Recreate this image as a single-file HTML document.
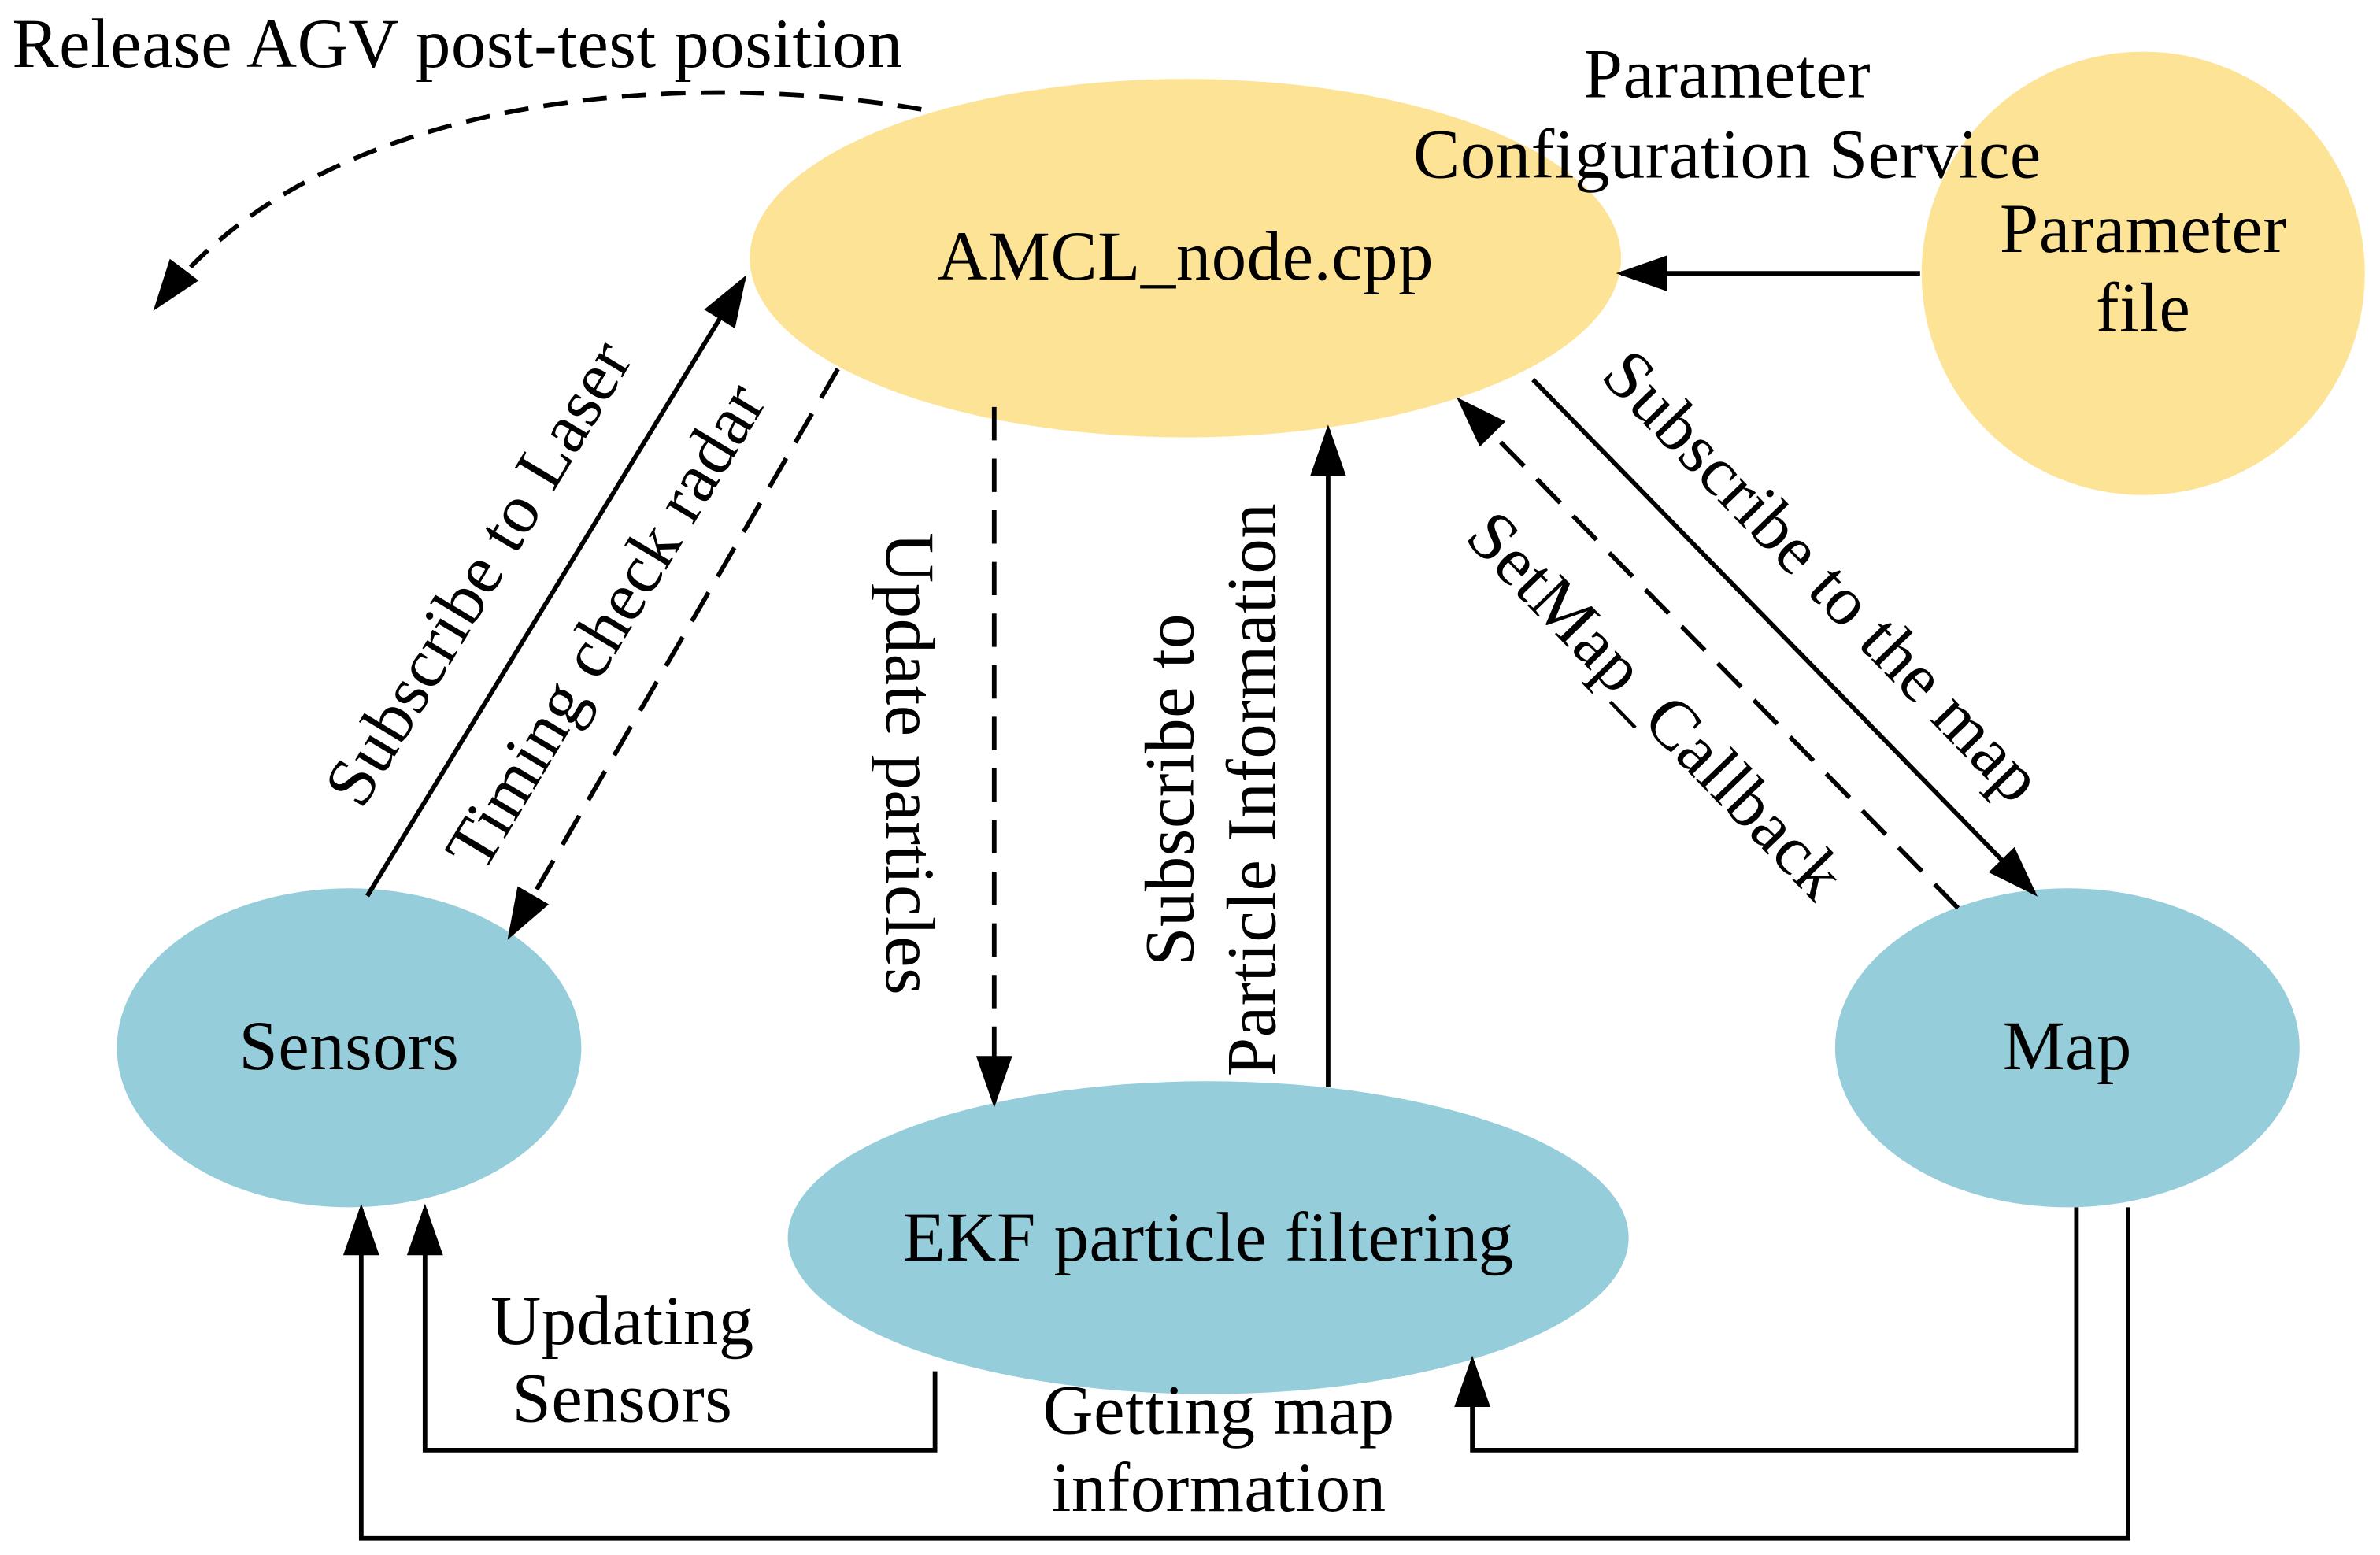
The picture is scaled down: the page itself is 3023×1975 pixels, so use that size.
<!DOCTYPE html>
<html><head><meta charset="utf-8"><style>html,body{margin:0;padding:0;background:#fff}svg{display:block}</style></head>
<body>
<svg width="3023" height="1975" viewBox="0 0 1568 1024" preserveAspectRatio="none" xmlns="http://www.w3.org/2000/svg" font-family="Liberation Serif, serif" font-size="46" letter-spacing="0.3" fill="#000">
<defs>
<marker id="b" viewBox="0 0 10 10" refX="9" refY="5" markerWidth="34" markerHeight="34" markerUnits="userSpaceOnUse" orient="auto"><path d="M0,1.5 L10,5 L0,8.5 z" fill="#000"/></marker>
</defs>
<ellipse cx="781" cy="170" rx="287" ry="118" fill="#fde396"/>
<ellipse cx="1412" cy="180" rx="146" ry="146" fill="#fde396"/>
<ellipse cx="230" cy="690" rx="153" ry="105" fill="#95cddb"/>
<ellipse cx="796" cy="815" rx="277" ry="103" fill="#95cddb"/>
<ellipse cx="1362" cy="690" rx="153" ry="105" fill="#95cddb"/>
<g stroke="#000" stroke-width="3" fill="none">
<line x1="242" y1="590" x2="490" y2="184" marker-end="url(#b)"/>
<line x1="552" y1="243" x2="336" y2="616" stroke-dasharray="22,12" marker-end="url(#b)"/>
<line x1="655" y1="268" x2="655" y2="726" stroke-dasharray="22,12" marker-end="url(#b)"/>
<line x1="875" y1="716" x2="875" y2="283" marker-end="url(#b)"/>
<line x1="1290" y1="598" x2="962" y2="264" stroke-dasharray="22,12" marker-end="url(#b)"/>
<line x1="1010" y1="250" x2="1340" y2="588" marker-end="url(#b)"/>
<line x1="1265" y1="180" x2="1068" y2="180" marker-end="url(#b)"/>
<path d="M607,72 C450,45 210,60 103,202" stroke-dasharray="16,10" marker-end="url(#b)"/>
<path d="M616,903 L616,955 L280,955 L280,796" marker-end="url(#b)"/>
<path d="M1402,795 L1402,1013 L238,1013 L238,796" marker-end="url(#b)"/>
<path d="M1368,795 L1368,955 L970,955 L970,896" marker-end="url(#b)"/>
</g>
<text x="8" y="44">Release AGV post-test position</text>
<text x="1138" y="64" text-anchor="middle">Parameter</text>
<text x="1138" y="117" text-anchor="middle">Configuration Service</text>
<text x="1412" y="166" text-anchor="middle">Parameter</text>
<text x="1412" y="218" text-anchor="middle">file</text>
<text x="781" y="184" text-anchor="middle">AMCL_node.cpp</text>
<text x="230" y="704" text-anchor="middle">Sensors</text>
<text x="1362" y="704" text-anchor="middle">Map</text>
<text x="796" y="830" text-anchor="middle">EKF particle filtering</text>
<text x="410" y="885" text-anchor="middle">Updating</text>
<text x="410" y="936" text-anchor="middle">Sensors</text>
<text x="803" y="944" text-anchor="middle">Getting map</text>
<text x="803" y="995" text-anchor="middle">information</text>
<text transform="translate(328,385) rotate(-59)" text-anchor="middle">Subscribe to Laser</text>
<text transform="translate(412,420) rotate(-59)" text-anchor="middle">Timing check radar</text>
<text transform="translate(584,503) rotate(90)" text-anchor="middle">Update particles</text>
<text transform="translate(786,520) rotate(-90)" text-anchor="middle">Subscribe to</text>
<text transform="translate(840,520) rotate(-90)" text-anchor="middle">Particle Information</text>
<text transform="translate(1080,475) rotate(46)" text-anchor="middle">SetMap_Callback</text>
<text transform="translate(1190,390) rotate(46)" text-anchor="middle">Subscribe to the map</text>
</svg>
</body></html>
